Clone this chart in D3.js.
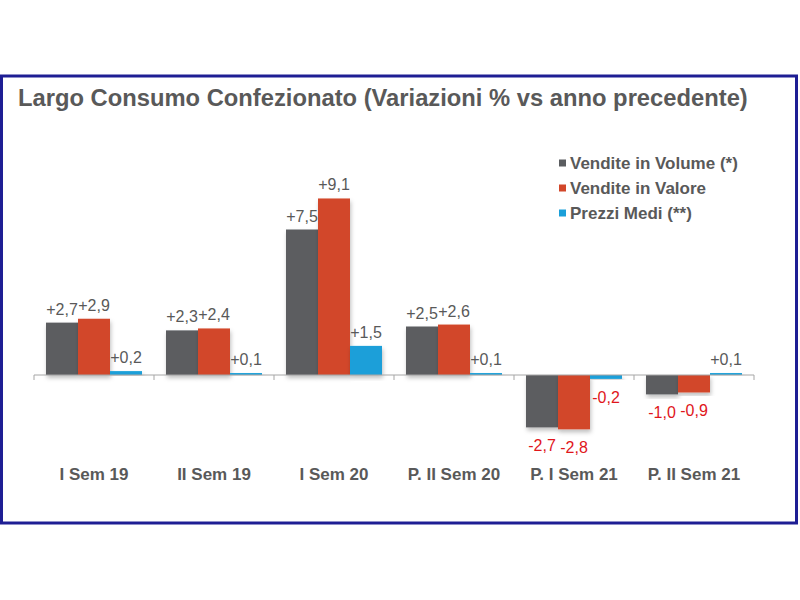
<!DOCTYPE html>
<html>
<head>
<meta charset="utf-8">
<script src="https://cdn.jsdelivr.net/npm/d3@7"></script>
<style>
  html, body { margin: 0; padding: 0; background: #ffffff; }
  svg { display: block; }
  text { font-family: "Liberation Sans", Arial, sans-serif; }
</style>
</head>
<body>
<svg id="chart" width="800" height="600"></svg>
<script>
// ---- data ----
const categories = ["I Sem 19", "II Sem 19", "I Sem 20", "P. II Sem 20", "P. I Sem 21", "P. II Sem 21"];
const seriesNames = ["Vendite in Volume (*)", "Vendite in Valore", "Prezzi Medi (**)"];
const volume = [2.7, 2.3, 7.5, 2.5, -2.7, -1.0];
const valore = [2.9, 2.4, 9.1, 2.6, -2.8, -0.9];
const prezzi = [0.2, 0.1, 1.5, 0.1, -0.2, 0.1];
const seriesColors = ["#5b5d60", "#d2472a", "#1a9fd9"];
const titleText = "Largo Consumo Confezionato (Variazioni % vs anno precedente)";

const seriesValues = [volume, valore, prezzi];
const rows = [];
categories.forEach((c, i) => {
  seriesNames.forEach((s, j) => rows.push({cat: c, series: s, value: seriesValues[j][i], si: j}));
});

const svg = d3.select("#chart");

// frame
svg.append("rect").attr("x", 1.5).attr("y", 76).attr("width", 795).attr("height", 447)
  .attr("fill", "#ffffff").attr("stroke", "#1e1e94").attr("stroke-width", 3);

// title
const title = svg.append("text").attr("x", 18).attr("y", 106)
  .attr("fill", "#595959").attr("font-weight", "bold").attr("font-size", 23)
  .text(titleText);
const tl = title.node().getComputedTextLength();
if (tl > 0) title.attr("font-size", (23 * 730 / tl).toFixed(2));

// scales
const x0 = d3.scaleBand().domain(categories).range([34, 754]).paddingInner(0).paddingOuter(0);
const x1 = d3.scaleBand().domain(seriesNames).range([0, x0.bandwidth()]).paddingInner(0).paddingOuter(0.375);
const y = d3.scaleLinear().domain([-3, 10]).range([375 + 3 * 19.4, 375 - 10 * 19.4]);
const color = d3.scaleOrdinal().domain(seriesNames).range(seriesColors);

// shadow filter
const defs = svg.append("defs");
const f = defs.append("filter").attr("id", "shadow").attr("x", "-20%").attr("y", "-20%").attr("width", "140%").attr("height", "140%");
f.append("feDropShadow").attr("dx", 1).attr("dy", 3).attr("stdDeviation", 2).attr("flood-color", "#000").attr("flood-opacity", 0.25);

// bars
const g = svg.append("g");
g.selectAll("rect.bar").data(rows).join("rect")
  .attr("class", "bar")
  .attr("x", d => x0(d.cat) + x1(d.series))
  .attr("width", x1.bandwidth())
  .attr("y", d => y(Math.max(0, d.value)))
  .attr("height", d => Math.abs(y(d.value) - y(0)))
  .attr("fill", d => color(d.series))
  .attr("filter", "url(#shadow)");

// axis
const axis = d3.axisBottom(x0).tickSize(5).tickFormat("");
const ax = svg.append("g").attr("transform", `translate(0,${y(0)})`).call(axis);
ax.select(".domain").attr("stroke", "#a6a6a6").attr("d", `M34,0H754`);
ax.selectAll(".tick").remove();
// ticks at band boundaries
const bounds = categories.map(c => x0(c)).concat([x0.range()[1]]);
ax.selectAll("line.bt").data(bounds).join("line").attr("class", "bt")
  .attr("x1", d => d).attr("x2", d => d).attr("y1", 0).attr("y2", 5)
  .attr("stroke", "#a6a6a6");

// category labels
svg.selectAll("text.cat").data(categories).join("text").attr("class", "cat")
  .attr("x", d => x0(d) + x0.bandwidth() / 2).attr("y", 480)
  .attr("text-anchor", "middle").attr("font-weight", "bold").attr("font-size", 17)
  .attr("fill", "#595959").text(d => d);

// value labels
const fmt = v => (v > 0 ? "+" : "") + v.toFixed(1).replace(".", ",");
svg.selectAll("text.val").data(rows).join("text").attr("class", "val")
  .attr("x", d => x0(d.cat) + x1(d.series) + x1.bandwidth() / 2)
  .attr("y", d => d.value >= 0 ? y(d.value) - 8 : y(d.value) + 24)
  .attr("text-anchor", "middle").attr("font-size", 16)
  .attr("fill", d => d.value >= 0 ? "#595959" : "#e0161b")
  .text(d => fmt(d.value));

// legend
const lg = svg.append("g");
seriesNames.forEach((s, i) => {
  const cy = 163 + i * 25;
  lg.append("rect").attr("x", 559).attr("y", cy - 3.5).attr("width", 7).attr("height", 7).attr("fill", color(s));
  lg.append("text").attr("x", 570).attr("y", cy + 6).attr("font-size", 17).attr("font-weight", "bold")
    .attr("fill", "#595959").text(s);
});
</script>
</body>
</html>
